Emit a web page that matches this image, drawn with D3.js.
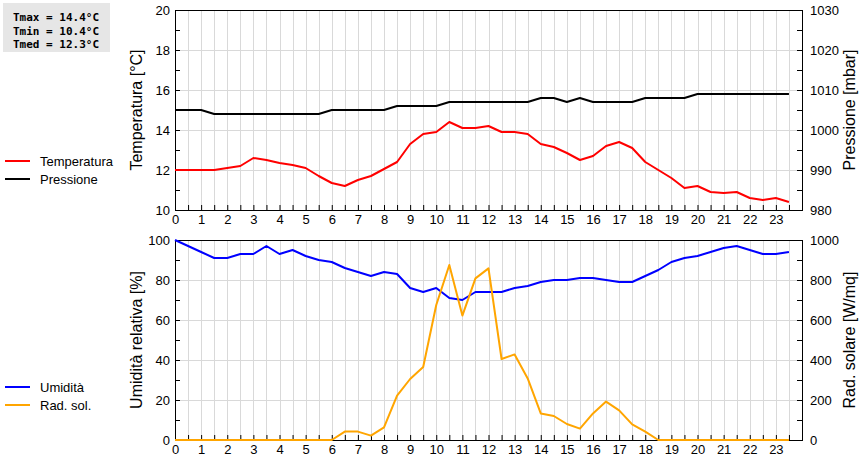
<!DOCTYPE html>
<html>
<head>
<meta charset="utf-8">
<script src="https://cdn.jsdelivr.net/npm/d3@7"></script>
<style>
  body { margin: 0; background: #fff; }
  svg { display: block; font-family: "Liberation Sans", Arial, sans-serif; }
</style>
</head>
<body>
<svg id="chart" width="860" height="460"></svg>
<script>
// half-hour readings 0 .. 23.5
let hours = d3.range(0, 24, 0.5);

let temperatura = [12.0, 12.0, 12.0, 12.0, 12.1, 12.2, 12.6, 12.5, 12.35, 12.25, 12.1, 11.7,
    11.35, 11.2, 11.5, 11.7, 12.05, 12.4, 13.3, 13.8, 13.9, 14.4, 14.1, 14.1,
    14.2, 13.9, 13.9, 13.8, 13.3, 13.15, 12.85, 12.5, 12.7, 13.2, 13.4, 13.1,
    12.4, 12.0, 11.6, 11.1, 11.2, 10.9, 10.85, 10.9, 10.6, 10.5, 10.6, 10.4];

let pressione = [1005, 1005, 1005, 1004, 1004, 1004, 1004, 1004, 1004, 1004, 1004, 1004,
    1005, 1005, 1005, 1005, 1005, 1006, 1006, 1006, 1006, 1007, 1007, 1007,
    1007, 1007, 1007, 1007, 1008, 1008, 1007, 1008, 1007, 1007, 1007, 1007,
    1008, 1008, 1008, 1008, 1009, 1009, 1009, 1009, 1009, 1009, 1009, 1009];

let umidita = [100, 97, 94, 91, 91, 93, 93, 97, 93, 95, 92, 90,
    89, 86, 84, 82, 84, 83, 76, 74, 76, 71, 70, 74,
    74, 74, 76, 77, 79, 80, 80, 81, 81, 80, 79, 79,
    82, 85, 89, 91, 92, 94, 96, 97, 95, 93, 93, 94];

let radSolare = [0, 0, 0, 0, 0, 0, 0, 0, 0, 0, 0, 0,
    0, 42, 42, 22, 63, 222, 305, 365, 675, 875, 622, 808,
    858, 405, 428, 308, 133, 120, 80, 57, 133, 192, 148, 78,
    42, 0, 0, 0, 0, 0, 0, 0, 0, 0, 0, 0];

let infoLines = ["Tmax = 14.4°C", "Tmin = 10.4°C", "Tmed = 12.3°C"];

let xTickLabels = d3.range(0, 24);
let tempTicks = d3.range(10, 21, 2);
let presTicks = d3.range(980, 1031, 10);
let umidTicks = d3.range(0, 101, 20);
let radTicks = d3.range(0, 1001, 200);

let svg = d3.select("#chart");
let left = 175, right = 802;

let x = d3.scaleLinear().domain([0, 24]).range([left, right]);

let gridColor = "#d9d9d9";
let fmt = d3.format("d");

function styleLabels(sel) {
    sel.selectAll("text")
        .attr("font-size", 13)
        .attr("fill", "#000")
        .attr("font-family", "Liberation Sans, Arial, sans-serif");
}

function panel(top, bottom, yL, yR, opt) {
    let g = svg.append("g");

    // vertical grid, every half hour
    g.selectAll(".vg")
        .data(d3.range(0.5, 24, 0.5))
        .enter()
        .append("line")
        .attr("x1", d => Math.round(x(d)) + 0.5).attr("x2", d => Math.round(x(d)) + 0.5)
        .attr("y1", top).attr("y2", bottom)
        .attr("stroke", gridColor).attr("stroke-width", 1);

    // horizontal grid at the labelled ticks
    g.selectAll(".hg")
        .data(opt.leftTicks.slice(1, -1))
        .enter()
        .append("line")
        .attr("x1", left).attr("x2", right)
        .attr("y1", d => Math.round(yL(d)) + 0.5).attr("y2", d => Math.round(yL(d)) + 0.5)
        .attr("stroke", gridColor).attr("stroke-width", 1);

    // frame
    g.append("rect")
        .attr("x", left + 0.5).attr("y", top + 0.5)
        .attr("width", right - left).attr("height", bottom - top)
        .attr("fill", "none").attr("stroke", "#000").attr("stroke-width", 1);

    // inward ticks
    let minorL = d3.range(opt.leftTicks[0], opt.leftTicks[opt.leftTicks.length - 1] + 0.001, opt.leftMinor);
    let minorR = d3.range(opt.rightTicks[0], opt.rightTicks[opt.rightTicks.length - 1] + 0.001, opt.rightMinor);

    g.append("g")
        .attr("transform", "translate(" + left + ",0)")
        .call(d3.axisRight(yL).tickValues(minorL).tickSize(5).tickFormat(""))
        .call(a => a.select(".domain").remove());
    g.append("g")
        .attr("transform", "translate(" + right + ",0)")
        .call(d3.axisLeft(yR).tickValues(minorR).tickSize(5).tickFormat(""))
        .call(a => a.select(".domain").remove());
    g.append("g")
        .attr("transform", "translate(0," + bottom + ")")
        .call(d3.axisTop(x).tickValues(d3.range(0.5, 24, 0.5)).tickSize(5).tickFormat(""))
        .call(a => a.select(".domain").remove());

    // lines, on top of the frame
    opt.series.forEach(function (s) {
        let line = d3.line()
            .x((d, i) => x(hours[i]))
            .y(d => s.scale(d));
        g.append("path")
            .datum(s.values)
            .attr("fill", "none")
            .attr("stroke", s.color)
            .attr("stroke-width", 2)
            .attr("stroke-linejoin", "round")
            .attr("d", line);
    });

    // labels
    g.append("g")
        .attr("transform", "translate(" + left + ",0)")
        .call(d3.axisLeft(yL).tickValues(opt.leftTicks).tickSize(0).tickPadding(5).tickFormat(fmt))
        .call(a => a.select(".domain").remove())
        .call(styleLabels);
    g.append("g")
        .attr("transform", "translate(" + right + ",0)")
        .call(d3.axisRight(yR).tickValues(opt.rightTicks).tickSize(0).tickPadding(8).tickFormat(fmt))
        .call(a => a.select(".domain").remove())
        .call(styleLabels);
    g.append("g")
        .attr("transform", "translate(0," + bottom + ")")
        .call(d3.axisBottom(x).tickValues(xTickLabels).tickSize(0).tickPadding(5).tickFormat(fmt))
        .call(a => a.select(".domain").remove())
        .call(styleLabels);

    // axis titles
    let mid = (top + bottom) / 2;
    g.append("text")
        .attr("transform", "translate(" + 142 + "," + mid + ") rotate(-90)")
        .attr("text-anchor", "middle")
        .attr("font-size", 16)
        .text(opt.leftTitle);
    g.append("text")
        .attr("transform", "translate(" + 855 + "," + mid + ") rotate(-90)")
        .attr("text-anchor", "middle")
        .attr("font-size", 16)
        .text(opt.rightTitle);

    // legend
    opt.series.forEach(function (s, i) {
        let ly = opt.legendY + i * 18;
        svg.append("line")
            .attr("x1", 5).attr("x2", 30)
            .attr("y1", ly).attr("y2", ly)
            .attr("stroke", s.color).attr("stroke-width", 2);
        svg.append("text")
            .attr("x", 40).attr("y", ly + 4.5)
            .attr("font-size", 13)
            .text(s.name);
    });
}

// top panel
let yTemp = d3.scaleLinear().domain([10, 20]).range([210, 10]);
let yPres = d3.scaleLinear().domain([980, 1030]).range([210, 10]);
panel(10, 210, yTemp, yPres, {
    leftTicks: tempTicks, leftMinor: 1,
    rightTicks: presTicks, rightMinor: 5,
    leftTitle: "Temperatura [°C]",
    rightTitle: "Pressione [mbar]",
    legendY: 161,
    series: [
        {name: "Temperatura", values: temperatura, scale: yTemp, color: "#ff0000"},
        {name: "Pressione", values: pressione, scale: yPres, color: "#000000"}
    ]
});

// bottom panel
let yUmid = d3.scaleLinear().domain([0, 100]).range([440, 240]);
let yRad = d3.scaleLinear().domain([0, 1000]).range([440, 240]);
panel(240, 440, yUmid, yRad, {
    leftTicks: umidTicks, leftMinor: 10,
    rightTicks: radTicks, rightMinor: 100,
    leftTitle: "Umidità relativa [%]",
    rightTitle: "Rad. solare [W/mq]",
    legendY: 387,
    series: [
        {name: "Umidità", values: umidita, scale: yUmid, color: "#0000ff"},
        {name: "Rad. sol.", values: radSolare, scale: yRad, color: "#ffa500"}
    ]
});

// info box
svg.append("rect")
    .attr("x", 3).attr("y", 3).attr("width", 107).attr("height", 49)
    .attr("fill", "#e6e6e6");
svg.selectAll(".info")
    .data(infoLines)
    .enter()
    .append("text")
    .attr("x", 13)
    .attr("y", (d, i) => 21 + i * 13.5)
    .attr("font-family", "DejaVu Sans Mono, monospace")
    .attr("font-weight", "bold")
    .attr("font-size", 11)
    .text(d => d);
</script>
</body>
</html>
